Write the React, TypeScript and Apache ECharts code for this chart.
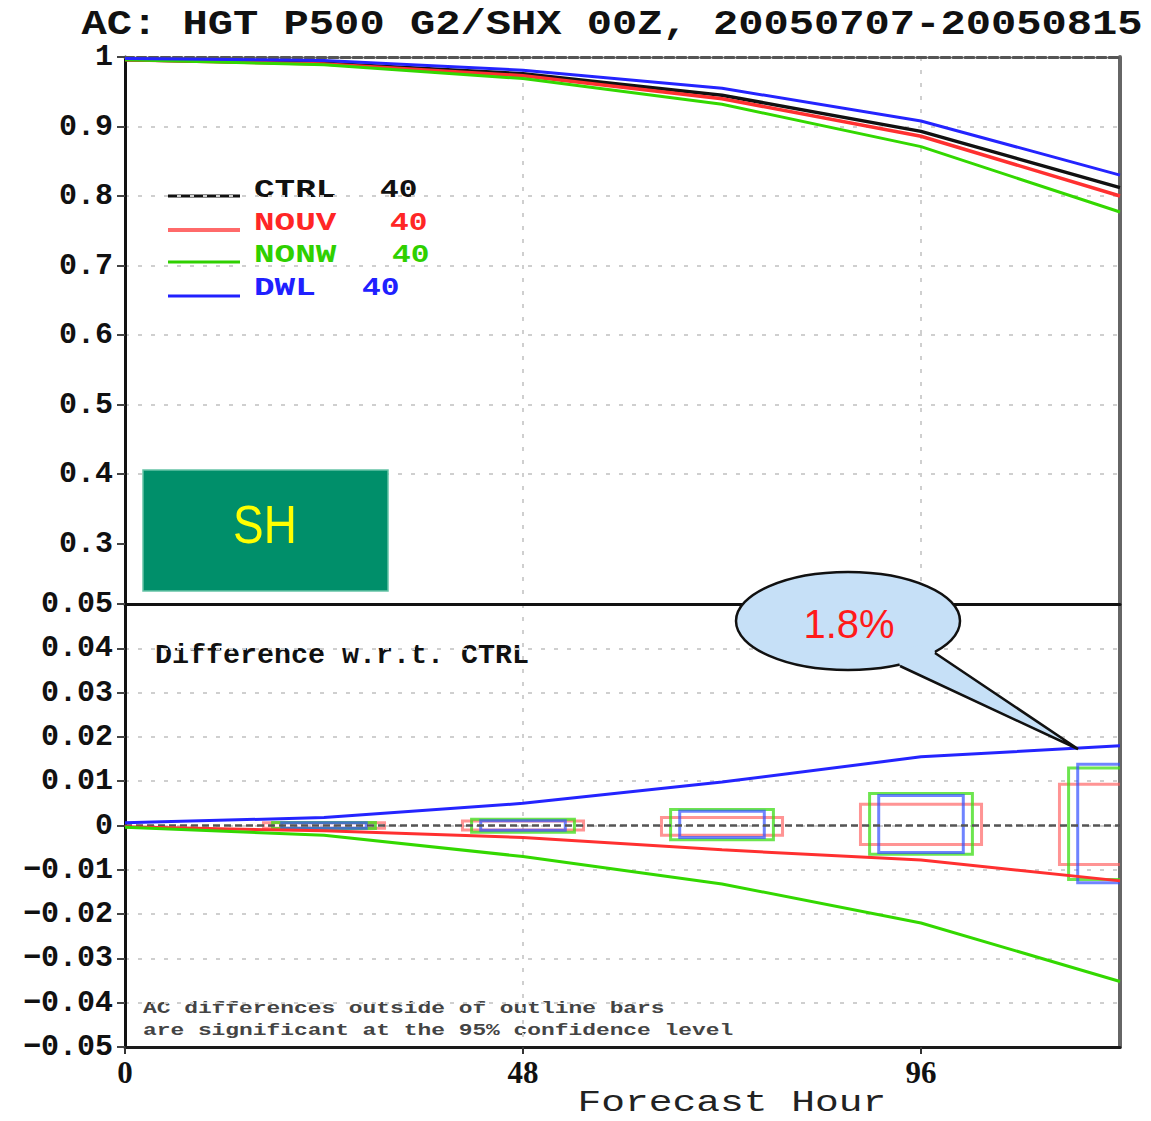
import React, { useEffect, useRef } from "react";
import * as echarts from "echarts";

// ---- data ----
const HOURS = [0, 24, 48, 72, 96, 120];
const CTRL_AC = [0.996, 0.991, 0.976, 0.945, 0.893, 0.812];
const NOUV_AC = [0.996, 0.99, 0.973, 0.94, 0.886, 0.8];
const NONW_AC = [0.996, 0.989, 0.969, 0.932, 0.871, 0.777];
const DWL_AC = [0.998, 0.995, 0.981, 0.955, 0.908, 0.83];

const CTRL_DIFF = [0, 0, 0, 0, 0, 0];
const NOUV_DIFF = [-0.0003, -0.0012, -0.0027, -0.0055, -0.0078, -0.0125];
const NONW_DIFF = [-0.0004, -0.0022, -0.007, -0.0132, -0.022, -0.0352];
const DWL_DIFF = [0.0006, 0.0018, 0.005, 0.0098, 0.0155, 0.018];

const BOX_HOURS = [24, 48, 72, 96, 120];
const NOUV_BOX_HI = [0.0006, 0.001, 0.0018, 0.0048, 0.0093];
const NOUV_BOX_LO = [-0.0006, -0.001, -0.0022, -0.0043, -0.0088];
const NONW_BOX_HI = [0.0007, 0.0014, 0.0036, 0.0072, 0.013];
const NONW_BOX_LO = [-0.0007, -0.0015, -0.0032, -0.0065, -0.0122];
const DWL_BOX_HI = [0.0006, 0.0011, 0.0032, 0.0068, 0.0138];
const DWL_BOX_LO = [-0.0006, -0.0011, -0.0027, -0.0061, -0.0129];

const UPPER_TICKS = [0.3, 0.4, 0.5, 0.6, 0.7, 0.8, 0.9, 1];
const LOWER_TICKS = [-0.05, -0.04, -0.03, -0.02, -0.01, 0, 0.01, 0.02, 0.03, 0.04, 0.05];
const X_TICKS = [0, 48, 96];

const TITLE = "AC: HGT P500 G2/SHX 00Z, 20050707-20050815";
const LEGEND = [
  { name: "CTRL", n: "40", color: "#111111", numX: 380 },
  { name: "NOUV", n: "40", color: "#ff2626", numX: 390 },
  { name: "NONW", n: "40", color: "#2fd000", numX: 392 },
  { name: "DWL", n: "40", color: "#2020ff", numX: 362 },
];

// ---- style ----
const C_BLACK = "#111111";
const C_RED = "#ff3030";
const C_GREEN = "#33d800";
const C_BLUE = "#2424ff";
const GRID_LINE = { color: "#cfcfcf", width: 2, type: [4, 9] as any };
const MONO = "Liberation Mono";

const pairs = (xs: number[], ys: number[]) => xs.map((x, i) => [x, ys[i]]);

function boxSeries(name: string, hi: number[], lo: number[], color: string, hw: number) {
  return {
    name,
    type: "custom",
    xAxisIndex: 1,
    yAxisIndex: 1,
    clip: true,
    z: 3,
    data: BOX_HOURS.map((h, i) => [h, hi[i], lo[i]]),
    renderItem: (params: any, api: any) => {
      const x = api.value(0);
      const p1 = api.coord([x - hw, api.value(1)]);
      const p2 = api.coord([x + hw, api.value(2)]);
      return {
        type: "rect",
        shape: { x: p1[0], y: p1[1], width: p2[0] - p1[0], height: p2[1] - p1[1] },
        style: { fill: "none", stroke: color, lineWidth: 3 },
      };
    },
  };
}

function lineSeries(name: string, ys: number[], color: string, width: number, idx: number, type: any = "solid") {
  return {
    name,
    type: "line",
    xAxisIndex: idx,
    yAxisIndex: idx,
    data: pairs(HOURS, ys),
    showSymbol: false,
    symbol: "none",
    lineStyle: { color, width, type },
    z: 4,
  };
}

export default function App() {
  const ref = useRef<HTMLDivElement>(null);
  useEffect(() => {
    document.body.style.margin = "0";
    const chart = echarts.init(ref.current!, null, { renderer: "svg" });
    const yLabel = {
      fontFamily: MONO,
      fontWeight: "bold",
      fontSize: 30,
      color: "#111",
      margin: 12,
    };
    const option: any = {
      animation: false,
      backgroundColor: "#ffffff",
      grid: [
        { left: 125, top: 57, width: 995, height: 556 },
        { left: 125, top: 604, width: 995, height: 443 },
      ],
      xAxis: [
        {
          gridIndex: 0,
          type: "value",
          min: 0,
          max: 120,
          interval: 48,
          axisLine: { show: false },
          axisTick: { show: false },
          axisLabel: { show: false },
          splitLine: { show: true, lineStyle: GRID_LINE, showMinLine: false, showMaxLine: false },
        },
        {
          gridIndex: 1,
          type: "value",
          position: "bottom",
          min: 0,
          max: 120,
          interval: 48,
          axisLine: { show: true, onZero: false, lineStyle: { color: "#1a1a1a", width: 3 } },
          axisTick: { show: true, length: 7, lineStyle: { color: "#333", width: 2 }, customValues: X_TICKS },
          axisLabel: {
            show: true,
            customValues: X_TICKS,
            fontFamily: "Liberation Serif",
            fontWeight: "bold",
            fontSize: 31,
            color: "#111",
            margin: 10,
          },
          splitLine: { show: true, lineStyle: GRID_LINE, showMinLine: false, showMaxLine: false },
        },
        {
          gridIndex: 0,
          type: "value",
          position: "top",
          min: 0,
          max: 120,
          axisLine: { show: true, onZero: false, lineStyle: { color: "#555", width: 3, type: [9, 3] } },
          axisTick: { show: false },
          axisLabel: { show: false },
          splitLine: { show: false },
        },
        {
          gridIndex: 1,
          type: "value",
          position: "top",
          min: 0,
          max: 120,
          axisLine: { show: true, onZero: false, lineStyle: { color: "#111", width: 3 } },
          axisTick: { show: false },
          axisLabel: { show: false },
          splitLine: { show: false },
        },
      ],
      yAxis: [
        {
          gridIndex: 0,
          type: "value",
          min: 0.2,
          max: 1,
          interval: 0.1,
          axisLine: { show: true, onZero: false, lineStyle: { color: "#111", width: 3 } },
          axisTick: { show: true, length: 8, lineStyle: { color: "#444", width: 2 }, customValues: UPPER_TICKS },
          axisLabel: {
            ...yLabel,
            customValues: UPPER_TICKS,
            formatter: (v: number) => String(Math.round(v * 10) / 10),
          },
          splitLine: { show: true, lineStyle: GRID_LINE, showMinLine: false, showMaxLine: false },
        },
        {
          gridIndex: 1,
          type: "value",
          min: -0.05,
          max: 0.05,
          interval: 0.01,
          axisLine: { show: true, onZero: false, lineStyle: { color: "#111", width: 3 } },
          axisTick: { show: true, length: 8, lineStyle: { color: "#444", width: 2 }, customValues: LOWER_TICKS },
          axisLabel: {
            ...yLabel,
            customValues: LOWER_TICKS,
            formatter: (v: number) => {
              const r = Math.round(v * 100) / 100;
              if (r === 0) return "0";
              return (r < 0 ? "\u2212" : "") + Math.abs(r).toFixed(2);
            },
          },
          splitLine: { show: true, lineStyle: GRID_LINE, showMinLine: false, showMaxLine: false },
        },
        {
          gridIndex: 0,
          type: "value",
          position: "right",
          min: 0.2,
          max: 1,
          axisLine: { show: true, onZero: false, lineStyle: { color: "#666", width: 4 } },
          axisTick: { show: false },
          axisLabel: { show: false },
          splitLine: { show: false },
        },
        {
          gridIndex: 1,
          type: "value",
          position: "right",
          min: -0.05,
          max: 0.05,
          axisLine: { show: true, onZero: false, lineStyle: { color: "#666", width: 4 } },
          axisTick: { show: false },
          axisLabel: { show: false },
          splitLine: { show: false },
        },
      ],
      series: [
        lineSeries("CTRL", CTRL_AC, C_BLACK, 3.5, 0),
        lineSeries("NOUV", NOUV_AC, C_RED, 3.5, 0),
        lineSeries("NONW", NONW_AC, C_GREEN, 3, 0),
        lineSeries("DWL", DWL_AC, C_BLUE, 3, 0),
        boxSeries("NOUV box", NOUV_BOX_HI, NOUV_BOX_LO, "rgba(255,90,90,0.65)", 7.3),
        boxSeries("NONW box", NONW_BOX_HI, NONW_BOX_LO, "rgba(60,220,20,0.75)", 6.2),
        boxSeries("DWL box", DWL_BOX_HI, DWL_BOX_LO, "rgba(50,80,255,0.7)", 5.1),
        lineSeries("CTRL diff", CTRL_DIFF, "#555", 2.5, 1, [7, 4]),
        lineSeries("NOUV diff", NOUV_DIFF, C_RED, 3, 1),
        lineSeries("NONW diff", NONW_DIFF, C_GREEN, 3, 1),
        lineSeries("DWL diff", DWL_DIFF, C_BLUE, 3, 1),
      ],
      graphic: [
        {
          type: "text",
          x: 612,
          y: 24,
          scaleX: 1.17,
          style: {
            text: TITLE,
            font: `bold 36px "${MONO}"`,
            fill: "#111",
            textAlign: "center",
            textVerticalAlign: "middle",
          },
        },
        ...LEGEND.flatMap((l, i) => {
          const ly = [196, 230, 262, 296][i];
          const ty = [190, 223, 255, 288][i];
          return [
            {
              type: "line",
              shape: { x1: 168, y1: ly, x2: 240, y2: ly },
              style: { stroke: i === 1 ? "#ff6a6a" : l.color, lineWidth: i === 1 ? 4 : 3 },
            },
            {
              type: "text",
              x: 254,
              y: ty,
              scaleX: 1.32,
              style: { text: l.name, font: `bold 26px "${MONO}"`, fill: l.color, textVerticalAlign: "middle" },
            },
            {
              type: "text",
              x: l.numX,
              y: ty,
              scaleX: 1.2,
              style: { text: l.n, font: `bold 26px "${MONO}"`, fill: l.color, textVerticalAlign: "middle" },
            },
          ];
        }),
        {
          type: "rect",
          shape: { x: 143, y: 470, width: 245, height: 121 },
          style: { fill: "#008f6a", stroke: "#66c3a6", lineWidth: 1.5 },
          z: 50,
        },
        {
          type: "text",
          x: 265,
          y: 525,
          scaleX: 0.85,
          z: 51,
          style: {
            text: "SH",
            font: `54px "Liberation Sans"`,
            fill: "#ffff00",
            textAlign: "center",
            textVerticalAlign: "middle",
          },
        },
        {
          type: "text",
          x: 155,
          y: 656,
          scaleX: 1.05,
          style: { text: "Difference w.r.t. CTRL", font: `bold 27px "${MONO}"`, fill: "#111", textVerticalAlign: "middle" },
        },
        {
          type: "text",
          x: 143,
          y: 1009,
          scaleX: 1.43,
          style: { text: "AC differences outside of outline bars", font: `bold 16px "${MONO}"`, fill: "#444", textVerticalAlign: "middle" },
        },
        {
          type: "text",
          x: 143,
          y: 1031,
          scaleX: 1.43,
          style: { text: "are significant at the 95% confidence level", font: `bold 16px "${MONO}"`, fill: "#444", textVerticalAlign: "middle" },
        },
        {
          type: "text",
          x: 732,
          y: 1103,
          scaleX: 1.32,
          style: { text: "Forecast Hour", font: `30px "${MONO}"`, fill: "#222", textAlign: "center", textVerticalAlign: "middle" },
        },
        {
          type: "ellipse",
          shape: { cx: 848, cy: 621, rx: 112, ry: 49 },
          style: { fill: "#c6e0f7", stroke: "#111", lineWidth: 2.5 },
          z: 60,
        },
        {
          type: "polygon",
          shape: { points: [[900, 666], [896, 650], [933, 643], [935, 653], [1078, 749]] },
          style: { fill: "#c6e0f7" },
          z: 61,
        },
        {
          type: "polyline",
          shape: { points: [[900, 666], [1078, 749], [935, 653]] },
          style: { stroke: "#111", lineWidth: 2.5, fill: "none" },
          z: 62,
        },
        {
          type: "text",
          x: 849,
          y: 624,
          z: 63,
          style: {
            text: "1.8%",
            font: `40px "Liberation Sans"`,
            fill: "#ff1a1a",
            textAlign: "center",
            textVerticalAlign: "middle",
          },
        },
      ],
    };
    chart.setOption(option);
    return () => chart.dispose();
  }, []);
  return <div ref={ref} style={{ width: 1151, height: 1121 }} />;
}
